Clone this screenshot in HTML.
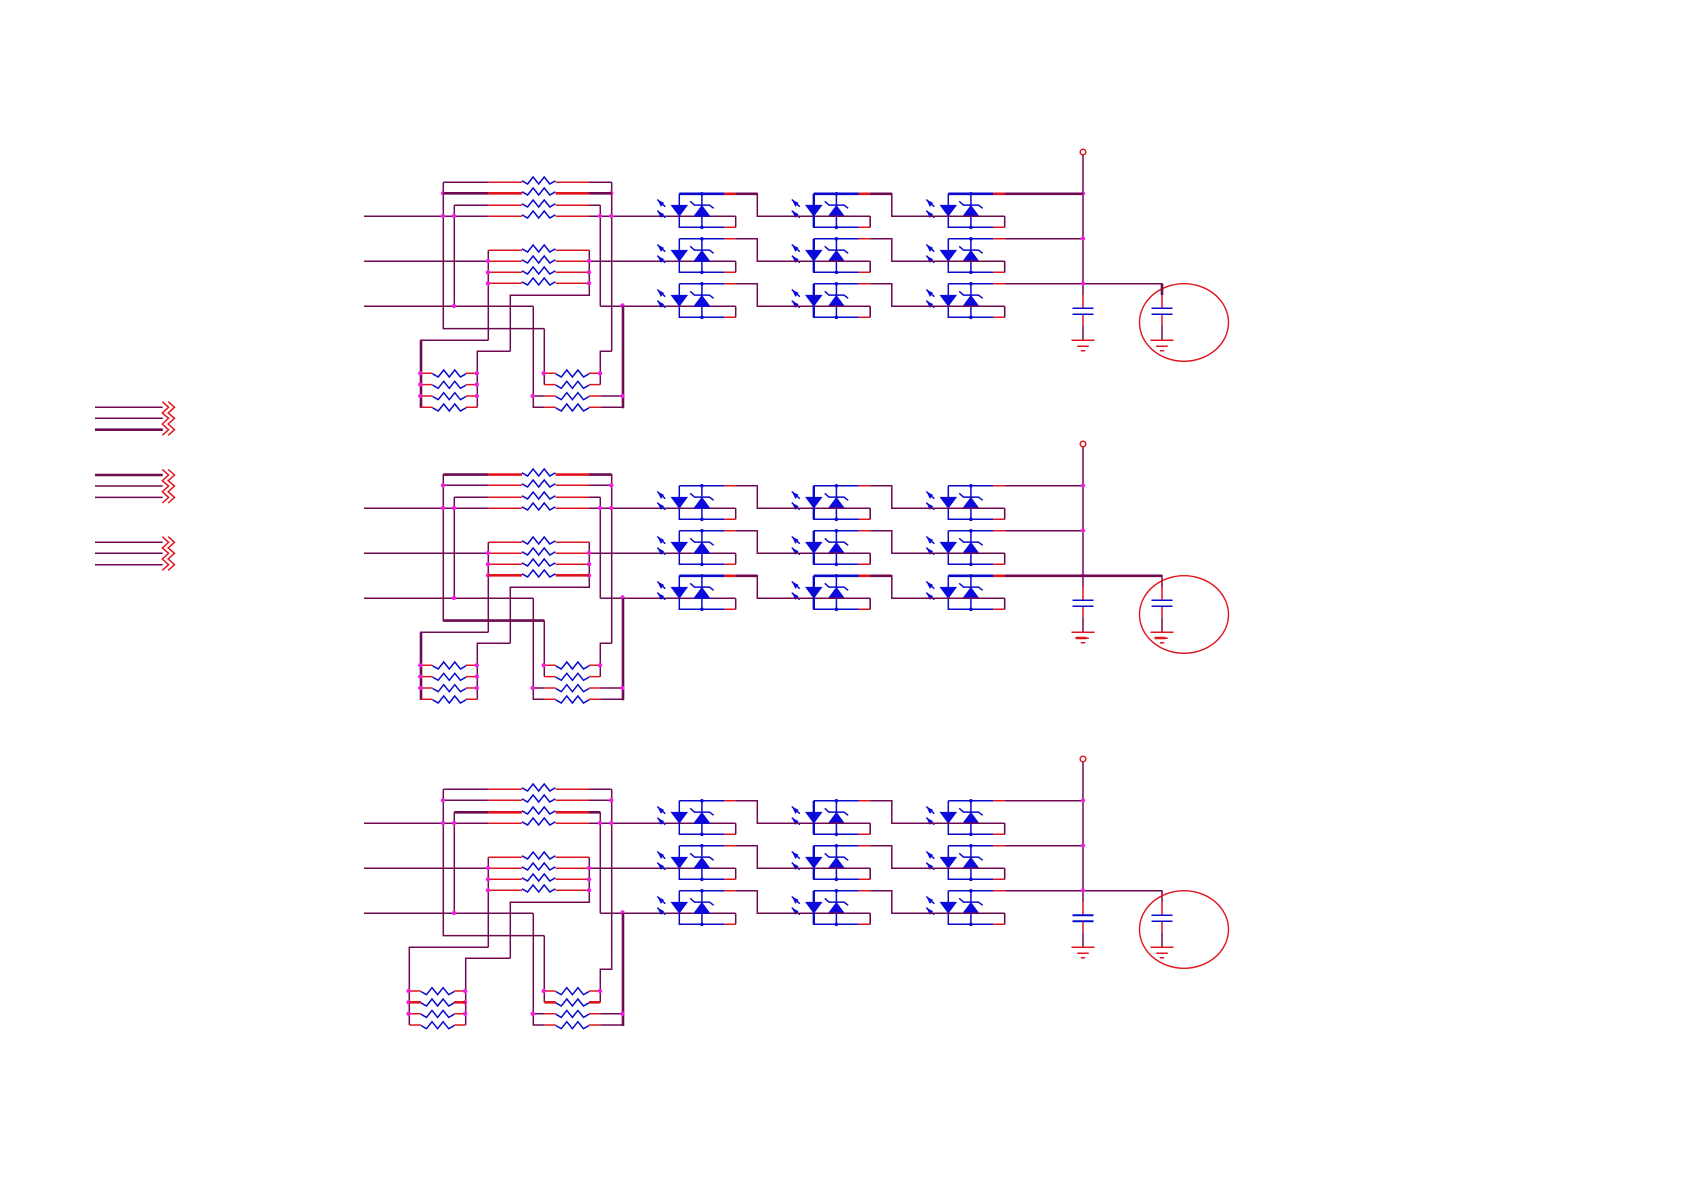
<!DOCTYPE html>
<html>
<head>
<meta charset="utf-8">
<title>Schematic</title>
<style>
html,body{margin:0;padding:0;background:#fff;}
svg{display:block;}
.p,.r,.b{fill:none;stroke-width:1.5;}
.p{stroke:#6e0a50;}
.r{stroke:#e0141e;}
.b{stroke:#0a0acc;}
.tp{fill:none;stroke:#6e0a50;stroke-width:2.6;}
.tr{fill:none;stroke:#e0141e;stroke-width:2.6;}
.tb{fill:none;stroke:#0a0acc;stroke-width:2.6;}
.d{fill:#f01ee0;stroke:none;}
.f{fill:#0a0adc;stroke:none;}
</style>
</head>
<body>
<svg width="1684" height="1190" viewBox="0 0 1684 1190" xmlns="http://www.w3.org/2000/svg">
<rect width="1684" height="1190" fill="#fff"/>
<defs>
  <path id="z" class="b" d="M0 -1.5L5.6 1.7L11.1 -5.3L16.7 1.7L22.2 -5.3L27.8 1.7L33.4 -1.5"/>
  <circle id="j" class="d" r="2.2"/>

  <g id="led">
    <path class="b" d="M0 -22.5V11H45M0 -22.5H45M22.6 -22.5V11"/>
    <path class="r" d="M45 -22.5H56.4M45 11H56.4"/>
    <path class="p" d="M56.4 0V11"/>
    <path class="f" d="M-8.8 -11.4H8.8L0 0.4Z"/>
    <path class="f" d="M22.6 -11.4L31.4 0.4H13.8Z"/>
    <path class="b" d="M10.9 -15L15.2 -11.2H30.2L34.4 -8"/>
    <circle class="f" cx="22.6" cy="-22.5" r="1.8"/>
    <circle class="f" cx="22.6" cy="11" r="1.8"/>
    <path class="b" d="M-22 -16.8L-14 -9.6M-22 -5.6L-14 1.4"/>
    <path class="f" d="M-22 -16.8L-15.2 -13.4L-18.4 -9.4ZM-22 -5.6L-15.2 -2.2L-18.4 1.6Z"/>
  </g>

  <g id="row">
    <use href="#led" x="679.3"/>
    <use href="#led" x="813.8"/>
    <use href="#led" x="948.3"/>
    <path class="p" d="M735.7 -22.5H757.3V0H870.2M870.2 -22.5H891.8V0H1004.7M1004.7 -22.5H1083M870.2 0V11M1004.7 0V11"/>
    <path class="b" style="stroke-width:2.4" d="M813.8 -22.5V11"/>
  </g>

  <g id="rt">
    <path class="tb" d="M679.3 -22.5H724.3M813.8 -22.5H858.8M948.3 -22.5H993.3"/>
    <path class="tr" d="M724.3 -22.5H735.7M858.8 -22.5H870.2M993.3 -22.5H1004.7"/>
    <path class="tp" d="M735.7 -22.5H757.3M870.2 -22.5H891.8M1004.7 -22.5H1083"/>
  </g>

  <g id="gnd">
    <path class="r" d="M-11.5 0H11.5M-5.8 6H5.8M-2.2 10.5H2.2"/>
  </g>

  <g id="capr">
    <path class="r" d="M0 11V25M0 31V42"/>
    <path class="p" d="M0 42V57"/>
    <path class="b" d="M-10.5 25H10.5M-10.5 31H10.5"/>
    <use href="#gnd" y="57"/>
  </g>

  <g id="top">
    <path class="p" d="M443.3 193.3H488M589 193.3H611.7M443.3 182.3H488M589 182.3H611.7M454.3 205.3H488M589 205.3H600.3M364 216.3H488M589 216.3H735.7M364 261.3H488M589 261.3H735.7M364 306.3H533.3M600.3 306.3H735.7M443.3 182.3V328.6H544.3M611.7 182.3V351.3M454.3 205.3V306.3M600.3 205.3V306.3M488.3 250.3V340.3M589.3 250.3V295.3H510.3V351.3"/>
    <path class="r" d="M488 182.3H522M555.7 182.3H589M488 193.3H522M555.7 193.3H589M488 205.3H522M555.7 205.3H589M488 216.3H522M555.7 216.3H589M488.3 250.3H522M555.7 250.3H589.3M488 261.3H522M555.7 261.3H589M488 272.3H522M555.7 272.3H589M488 283.3H522M555.7 283.3H589"/>
    <use href="#z" x="522" y="182.3"/><use href="#z" x="522" y="193.3"/><use href="#z" x="522" y="205.3"/><use href="#z" x="522" y="216.3"/>
    <use href="#z" x="522" y="250.3"/><use href="#z" x="522" y="261.3"/><use href="#z" x="522" y="272.3"/><use href="#z" x="522" y="283.3"/>
    <use href="#j" x="443" y="193.3"/><use href="#j" x="611.3" y="193.3"/>
    <use href="#j" x="443" y="216"/><use href="#j" x="454" y="216"/><use href="#j" x="600" y="216"/><use href="#j" x="611.3" y="216"/>
    <use href="#j" x="488" y="261"/><use href="#j" x="589" y="261"/>
    <use href="#j" x="488" y="272.3"/><use href="#j" x="589" y="272.3"/>
    <use href="#j" x="488" y="283.3"/><use href="#j" x="589" y="283.3"/>
    <use href="#j" x="454" y="306"/><use href="#j" x="622.5" y="305.5"/>
    <use href="#row" y="216.3"/><use href="#row" y="261.3"/><use href="#row" y="306.3"/>
    <path class="p" d="M1083 155V295M1083 283.8H1162V295"/>
    <circle cx="1083" cy="152" r="2.8" fill="none" stroke="#e0141e" stroke-width="1.5"/>
    <use href="#j" x="1083" y="193.5"/><use href="#j" x="1083" y="238.5"/><use href="#j" x="1083" y="283.5"/>
    <use href="#capr" x="1083" y="283.3"/><use href="#capr" x="1162" y="283.3"/>
    <ellipse cx="1184" cy="322.5" rx="44.5" ry="38.8" fill="none" stroke="#e0141e" stroke-width="1.4"/>
  </g>

  <g id="bl">
    <path class="r" d="M0 0H11.6M44.9 0H56.3M0 11.3H11.6M44.9 11.3H56.3M0 22.7H11.6M44.9 22.7H56.3M0 34H11.6M44.9 34H56.3"/>
    <use href="#z" x="11.6" y="2"/><use href="#z" x="11.6" y="13.3"/><use href="#z" x="11.6" y="24.7"/><use href="#z" x="11.6" y="36"/>
    <use href="#j" x="-0.7"/><use href="#j" x="-0.7" y="11.3"/><use href="#j" x="-0.7" y="22.7"/>
    <use href="#j" x="55.8"/><use href="#j" x="55.8" y="11.3"/><use href="#j" x="55.8" y="22.7"/>
  </g>

  <g id="br">
    <path class="r" d="M544.3 0H555.7M589 0H600.3M544.3 11.3H555.7M589 11.3H600.3M544.3 22.7H555.7M589 22.7H600.3M544.3 34H555.7M589 34H600.3"/>
    <path class="p" d="M533.3 22.7H544.3M600.3 22.7H623M600.3 34H623"/>
    <use href="#z" x="555.7" y="2"/><use href="#z" x="555.7" y="13.3"/><use href="#z" x="555.7" y="24.7"/><use href="#z" x="555.7" y="36"/>
    <use href="#j" x="543.7"/><use href="#j" x="600"/><use href="#j" x="532.7" y="22.7"/><use href="#j" x="622.5" y="22.7"/>
  </g>

  <g id="botA">
    <path class="p" d="M611.7 351.3H600.3V384.6M488.3 340.3H421V407.3M510.3 351.3H477.3V407.3M544.3 328.6V384.6M533.3 306.3V407.3H544.3"/>
    <path class="tp" d="M623 306.3V408.3M421 340.3V408"/>
    <use href="#bl" x="421" y="373.3"/>
    <use href="#br" y="373.3"/>
  </g>

  <g id="botC">
    <path class="p" d="M611.7 351.3V362.3H600.3V395.3M488.3 340.3H409.3V418M510.3 351.3H465.7V418M544.3 328.6V395.3M533.3 306.3V418H544.3"/>
    <path class="tp" d="M623 306.3V419"/>
    <use href="#bl" x="409.3" y="384"/>
    <use href="#br" y="384"/>
  </g>

  <g id="lg">
    <path class="p" d="M95 407.3H162.7M95 418.3H162.7M95 429.7H162.7"/>
    <path class="r" d="M162.3 401.7L168.6 407.3L162.3 413L168.6 418.3L162.3 424L168.6 429.7L162.3 435.3M168.2 401.7L174.5 407.3L168.2 413L174.5 418.3L168.2 424L174.5 429.7L168.2 435.3"/>
  </g>
</defs>

<!-- legend -->
<use href="#lg"/>
<path class="tp" d="M95 429.7H162.7"/>
<use href="#lg" y="67.7"/>
<path class="tp" d="M95 475H162.7"/>
<use href="#lg" y="135"/>

<!-- block 1 -->
<g>
  <use href="#top"/>
  <use href="#botA"/>
  <path class="tp" d="M443.3 193.3H488M589 193.3H611.7"/>
  <path class="tr" d="M488 193.3H522M555.7 193.3H589"/>
  <use href="#rt" y="216.3"/>
  <path class="tp" d="M1162 283.8V295"/>
</g>

<!-- block 2 -->
<g transform="translate(0,292)">
  <use href="#top"/>
  <use href="#botA"/>
  <path class="tp" d="M443.3 182.6H488M589 182.6H611.7M443.3 328.6H544.3"/>
  <path class="tr" d="M488 182.6H522M555.7 182.6H589M488 283.3H522M555.7 283.3H589"/>
  <use href="#rt" y="306.3"/>
  <path class="tp" d="M1083 283.8H1162"/>
  <path class="tr" d="M1075.5 346H1086.5M1154.5 346H1165.5"/>
</g>

<!-- block 3 -->
<g transform="translate(0,607)">
  <use href="#top"/>
  <use href="#botC"/>
  <path class="tp" d="M454.3 205.3H488M589 205.3H600.3"/>
  <path class="tr" d="M488 205.3H522M555.7 205.3H589M544.3 395.3H555.7M589 395.3H600.3M409.3 395.3H421M454 395.3H465.7"/>
  <path class="b" style="stroke-width:2" d="M1072.5 308.3H1093.5M1072.5 314.3H1093.5"/>
</g>
</svg>
</body>
</html>
